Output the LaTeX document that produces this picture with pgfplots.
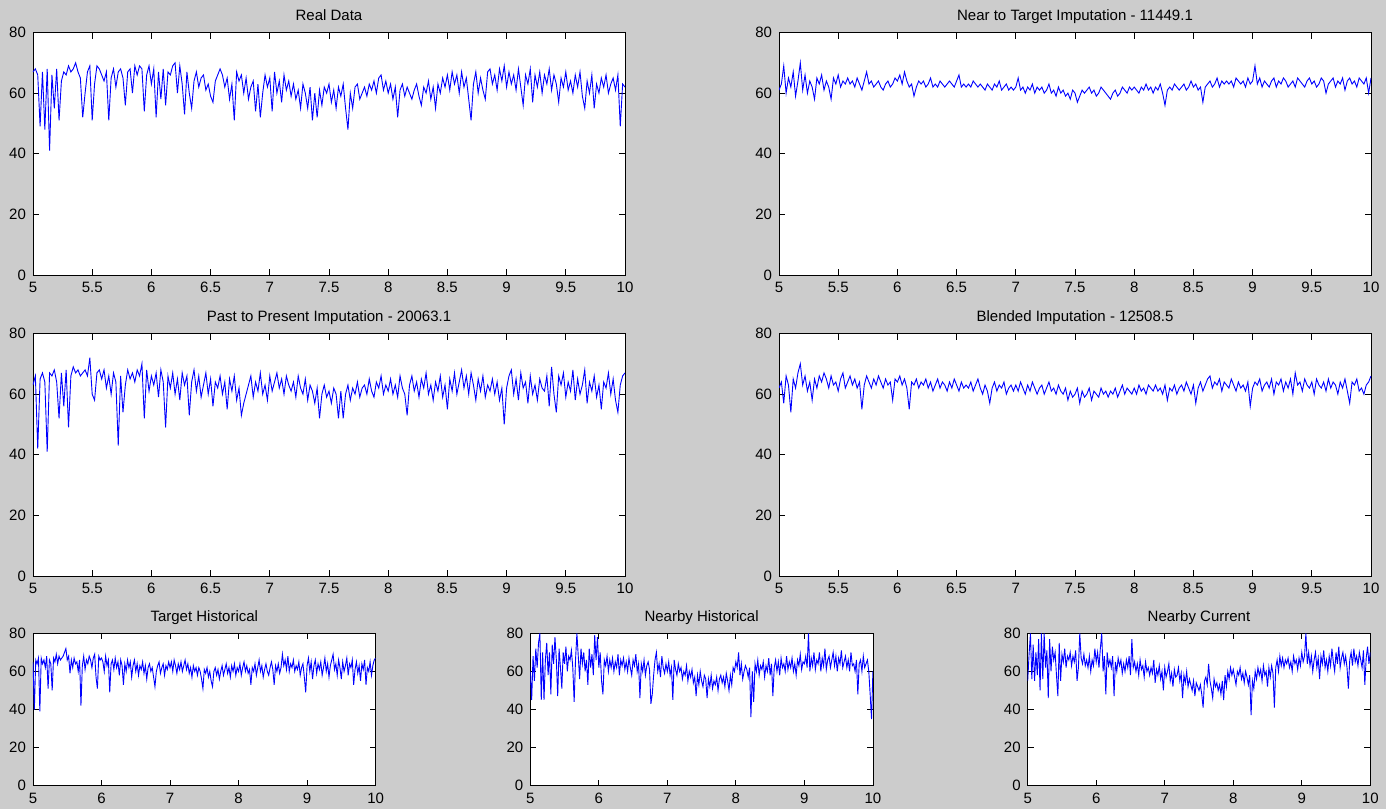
\documentclass[border=0pt]{standalone}
\usepackage{fontspec}
\setmainfont{Liberation Sans}
\usepackage{pgfplots}
\pgfplotsset{compat=1.18}
\definecolor{bgc}{RGB}{204,204,204}
\pgfplotsset{
  mpanel/.style={
    scale only axis, xmin=5, xmax=10, ymin=0, ymax=80,
    ytick={0,20,40,60,80},
    tick align=inside, xtick pos=both, ytick pos=both,
    xticklabel pos=bottom, yticklabel pos=left,
    major tick length=3pt,
    axis background/.style={fill=white},
    axis line style={line width=0.4pt, black},
    every tick/.style={black, line width=0.4pt},
    ticklabel style={font=\fontsize{7.5}{8}\selectfont, text=black},
    /pgf/number format/assume math mode=true,
    every axis title shift=0pt,
    title style={font=\fontsize{7.5}{8}\selectfont, at={(0.5,1)}, anchor=base, yshift=5.8pt, inner sep=0pt},
    anchor=south west,
  },
  bigpanel/.style={mpanel, width=296pt, height=121.25pt, xtick={5,5.5,6,6.5,7,7.5,8,8.5,9,9.5,10}},
  smallpanel/.style={mpanel, width=171.3pt, height=76.2pt, xtick={5,6,7,8,9,10}},
  ser/.style={blue, no markers, line width=0.45pt},
}
\begin{document}
\begin{tikzpicture}
\fill[bgc] (0,0) rectangle (693pt,404.5pt);
% Real Data
\begin{axis}[bigpanel, at={(16.5pt,267pt)}, title={Real Data}]
\addplot[ser] table[x expr=5+0.02*\coordindex, y index=0, header=false, row sep=\\] {
67\\68\\66\\49\\67\\48\\68\\41\\66\\55\\
68\\51\\64\\67\\66\\69\\67\\68\\70\\67\\
65\\52\\60\\67\\69\\51\\63\\69\\68\\66\\
64\\67\\51\\65\\68\\62\\67\\68\\65\\56\\
67\\68\\60\\69\\66\\69\\68\\54\\66\\69\\
63\\68\\52\\67\\58\\68\\56\\67\\66\\69\\
70\\60\\69\\63\\53\\67\\60\\55\\64\\67\\
62\\65\\66\\61\\63\\59\\57\\64\\66\\68\\
66\\62\\65\\58\\63\\51\\67\\64\\66\\60\\
65\\58\\62\\64\\54\\63\\52\\60\\66\\62\\
65\\54\\67\\60\\64\\57\\66\\61\\64\\59\\
63\\58\\61\\55\\63\\60\\55\\62\\51\\60\\
52\\61\\56\\62\\60\\63\\57\\61\\55\\62\\
59\\63\\55\\48\\60\\55\\62\\63\\58\\60\\
62\\59\\63\\61\\64\\60\\65\\66\\61\\64\\
60\\63\\58\\62\\52\\61\\63\\59\\62\\60\\
58\\61\\63\\59\\56\\62\\60\\64\\58\\62\\
55\\63\\60\\65\\62\\66\\61\\67\\63\\66\\
60\\67\\62\\65\\58\\51\\63\\67\\60\\65\\
61\\58\\67\\68\\63\\66\\61\\68\\64\\69\\
62\\67\\63\\66\\61\\68\\62\\56\\66\\63\\
68\\57\\66\\62\\67\\60\\66\\63\\68\\61\\
66\\63\\57\\65\\62\\67\\61\\64\\60\\66\\
62\\67\\59\\55\\64\\60\\66\\55\\63\\60\\
65\\62\\66\\60\\63\\65\\61\\66\\49\\63\\
62\\
};
\end{axis}
% Near to Target
\begin{axis}[bigpanel, at={(389.5pt,267pt)}, title={Near to Target Imputation - 11449.1}]
\addplot[ser] table[x expr=5+0.02*\coordindex, y index=0, header=false, row sep=\\] {
61\\63\\69\\60\\65\\62\\67\\59\\64\\70\\
61\\66\\60\\64\\62\\58\\65\\63\\66\\61\\
64\\62\\58\\65\\63\\66\\62\\64\\63\\65\\
63\\64\\62\\65\\63\\61\\64\\67\\63\\64\\
62\\63\\64\\62\\61\\63\\64\\62\\63\\65\\
64\\66\\63\\67\\64\\62\\63\\59\\62\\64\\
63\\64\\62\\63\\65\\62\\63\\62\\64\\63\\
62\\63\\64\\63\\62\\64\\66\\62\\63\\62\\
63\\62\\64\\63\\62\\63\\62\\61\\63\\62\\
61\\63\\62\\64\\61\\62\\63\\61\\62\\61\\
62\\65\\61\\62\\60\\62\\61\\63\\60\\62\\
61\\62\\60\\61\\63\\60\\61\\59\\62\\60\\
61\\59\\60\\58\\61\\60\\57\\59\\61\\60\\
61\\62\\60\\61\\59\\60\\62\\61\\60\\59\\
58\\60\\61\\59\\60\\62\\61\\60\\62\\61\\
62\\61\\60\\62\\61\\63\\61\\62\\60\\62\\
61\\63\\60\\56\\61\\62\\61\\63\\62\\61\\
62\\63\\61\\62\\64\\62\\63\\61\\62\\57\\
62\\63\\64\\62\\63\\65\\62\\64\\63\\64\\
63\\64\\62\\65\\64\\63\\64\\62\\65\\63\\
64\\69\\63\\65\\62\\64\\63\\62\\64\\65\\
62\\64\\63\\65\\64\\62\\63\\64\\62\\65\\
64\\63\\62\\64\\65\\63\\64\\62\\63\\65\\
64\\60\\63\\64\\65\\62\\64\\63\\65\\61\\
64\\65\\63\\64\\62\\65\\64\\63\\65\\60\\
65\\
};
\end{axis}
% Past to Present
\begin{axis}[bigpanel, at={(16.5pt,116.5pt)}, title={Past to Present Imputation - 20063.1}]
\addplot[ser] table[x expr=5+0.02*\coordindex, y index=0, header=false, row sep=\\] {
63\\66\\42\\65\\67\\64\\41\\67\\66\\68\\
64\\52\\67\\56\\68\\49\\66\\69\\67\\68\\
66\\67\\68\\66\\72\\60\\58\\67\\68\\65\\
68\\62\\66\\60\\67\\64\\43\\66\\54\\63\\
68\\65\\67\\64\\68\\66\\70\\52\\68\\61\\
66\\63\\67\\59\\68\\64\\49\\66\\62\\67\\
60\\65\\58\\67\\63\\66\\53\\64\\68\\61\\
66\\59\\63\\67\\60\\65\\56\\64\\62\\66\\
60\\64\\55\\65\\61\\66\\58\\62\\53\\57\\
60\\63\\66\\59\\64\\61\\67\\60\\63\\58\\
66\\61\\64\\67\\62\\65\\60\\66\\63\\61\\
64\\59\\66\\62\\60\\65\\58\\63\\61\\57\\
62\\52\\60\\63\\59\\61\\57\\62\\60\\52\\
61\\52\\60\\63\\58\\62\\60\\64\\59\\62\\
63\\60\\65\\61\\59\\64\\62\\66\\60\\63\\
61\\65\\60\\63\\59\\66\\62\\60\\53\\63\\
66\\61\\64\\59\\65\\62\\67\\60\\63\\58\\
64\\61\\66\\59\\63\\55\\65\\61\\67\\60\\
64\\68\\62\\66\\60\\67\\63\\58\\65\\61\\
66\\59\\63\\61\\65\\60\\64\\58\\62\\50\\
62\\66\\68\\60\\65\\58\\67\\62\\64\\57\\
66\\60\\63\\58\\65\\62\\61\\66\\56\\69\\
60\\54\\66\\63\\67\\59\\64\\61\\68\\58\\
65\\60\\63\\68\\57\\64\\61\\66\\59\\63\\
55\\64\\62\\67\\60\\65\\58\\54\\63\\66\\
67\\
};
\end{axis}
% Blended
\begin{axis}[bigpanel, at={(389.5pt,116.5pt)}, title={Blended Imputation - 12508.5}]
\addplot[ser] table[x expr=5+0.02*\coordindex, y index=0, header=false, row sep=\\] {
62\\64\\57\\66\\63\\54\\65\\62\\67\\70\\
63\\66\\61\\64\\58\\65\\62\\66\\64\\67\\
65\\62\\66\\63\\64\\61\\65\\67\\62\\64\\
66\\63\\65\\62\\64\\55\\63\\66\\64\\62\\
65\\63\\66\\64\\62\\65\\63\\64\\58\\65\\
64\\66\\63\\65\\62\\55\\64\\63\\65\\62\\
64\\63\\65\\62\\64\\61\\63\\65\\62\\64\\
63\\61\\64\\62\\65\\63\\61\\64\\62\\63\\
62\\64\\61\\63\\65\\62\\60\\63\\61\\57\\
62\\64\\61\\63\\62\\64\\60\\62\\63\\61\\
63\\61\\64\\62\\60\\63\\61\\64\\62\\60\\
62\\63\\60\\62\\64\\61\\62\\60\\63\\61\\
60\\62\\58\\61\\59\\60\\62\\57\\61\\59\\
60\\62\\58\\61\\60\\59\\62\\60\\61\\59\\
61\\60\\62\\59\\61\\63\\60\\62\\61\\60\\
62\\60\\63\\61\\62\\60\\63\\62\\61\\63\\
61\\62\\60\\63\\58\\62\\61\\63\\60\\62\\
63\\61\\64\\62\\60\\63\\57\\62\\64\\61\\
63\\65\\66\\62\\64\\63\\65\\61\\64\\63\\
62\\65\\63\\61\\64\\62\\63\\61\\64\\56\\
62\\64\\63\\65\\61\\63\\64\\62\\65\\60\\
64\\63\\65\\61\\64\\62\\65\\60\\67\\63\\
64\\61\\65\\63\\62\\64\\60\\65\\63\\62\\
64\\61\\65\\62\\64\\63\\60\\64\\62\\65\\
61\\57\\64\\63\\65\\61\\62\\60\\63\\64\\
66\\
};
\end{axis}
% Target Historical
\begin{axis}[smallpanel, at={(16.5pt,11.65pt)}, title={Target Historical}]
\addplot[ser] table[x expr=5+0.02*\coordindex, y index=0, header=false, row sep=\\] {
65\\40\\66\\64\\67\\39\\67\\64\\66\\62\\
68\\51\\66\\64\\50\\67\\65\\69\\64\\68\\
66\\67\\68\\70\\72\\66\\68\\59\\66\\62\\
67\\64\\65\\60\\66\\42\\63\\68\\61\\66\\
64\\68\\66\\62\\67\\69\\57\\51\\68\\66\\
67\\65\\60\\68\\63\\66\\49\\64\\66\\61\\
67\\62\\65\\58\\66\\63\\53\\64\\60\\66\\
62\\65\\57\\63\\66\\60\\64\\58\\63\\61\\
65\\59\\63\\56\\62\\64\\60\\62\\57\\52\\
60\\63\\65\\59\\62\\64\\58\\63\\61\\65\\
62\\65\\60\\66\\63\\59\\64\\61\\65\\60\\
63\\66\\61\\64\\59\\62\\57\\63\\60\\62\\
58\\62\\60\\56\\51\\61\\59\\62\\57\\60\\
55\\52\\60\\62\\58\\61\\56\\60\\63\\58\\
61\\64\\59\\62\\57\\63\\60\\64\\58\\62\\
60\\64\\58\\62\\65\\60\\63\\59\\61\\53\\
62\\60\\64\\58\\62\\66\\60\\63\\57\\61\\
64\\60\\58\\62\\65\\61\\53\\63\\60\\64\\
59\\62\\69\\63\\66\\61\\68\\60\\64\\62\\
66\\60\\63\\61\\65\\58\\62\\64\\57\\49\\
63\\67\\60\\65\\56\\63\\66\\59\\64\\61\\
65\\58\\62\\67\\60\\64\\57\\63\\66\\69\\
61\\64\\58\\66\\62\\56\\65\\60\\63\\67\\
58\\64\\62\\66\\53\\61\\65\\59\\63\\55\\
64\\61\\66\\53\\62\\60\\65\\58\\63\\66\\
67\\
};
\end{axis}
% Nearby Historical
\begin{axis}[smallpanel, at={(265.15pt,11.65pt)}, title={Nearby Historical}]
\addplot[ser] table[x expr=5+0.02*\coordindex, y index=0, header=false, row sep=\\] {
60\\45\\68\\55\\72\\62\\75\\80\\45\\70\\
45\\66\\75\\58\\70\\48\\74\\64\\78\\66\\
47\\72\\62\\51\\70\\64\\73\\60\\68\\66\\
71\\62\\44\\66\\80\\68\\56\\72\\64\\70\\
60\\66\\53\\72\\62\\69\\58\\79\\66\\78\\
62\\70\\55\\48\\66\\63\\68\\60\\66\\62\\
67\\60\\65\\62\\69\\58\\66\\63\\67\\61\\
65\\60\\67\\62\\58\\66\\63\\69\\60\\64\\
46\\64\\60\\66\\58\\63\\65\\61\\43\\48\\
58\\66\\70\\60\\64\\57\\68\\62\\59\\64\\
60\\65\\58\\62\\45\\66\\61\\58\\64\\60\\
62\\56\\60\\58\\63\\55\\60\\57\\61\\54\\
57\\47\\58\\53\\60\\55\\52\\58\\56\\46\\
56\\52\\58\\51\\55\\53\\57\\50\\56\\58\\
54\\57\\52\\59\\55\\50\\58\\53\\62\\60\\
65\\62\\70\\58\\64\\56\\60\\63\\61\\57\\
62\\36\\60\\44\\64\\60\\66\\58\\63\\61\\
65\\57\\63\\60\\67\\58\\64\\47\\62\\66\\
60\\65\\58\\67\\62\\64\\60\\68\\61\\65\\
62\\67\\60\\64\\58\\66\\63\\69\\61\\65\\
64\\68\\62\\80\\60\\67\\63\\70\\61\\66\\
64\\70\\60\\67\\63\\72\\61\\66\\68\\62\\
66\\70\\63\\68\\60\\67\\64\\71\\62\\65\\
68\\62\\66\\60\\70\\63\\64\\60\\66\\48\\
64\\66\\60\\68\\62\\64\\66\\60\\48\\35\\
60\\
};
\end{axis}
% Nearby Current
\begin{axis}[smallpanel, at={(513.85pt,11.65pt)}, title={Nearby Current}]
\addplot[ser] table[x expr=5+0.02*\coordindex, y index=0, header=false, row sep=\\] {
55\\69\\80\\56\\74\\55\\70\\58\\77\\50\\
80\\56\\80\\62\\71\\46\\77\\60\\73\\66\\
70\\58\\47\\75\\55\\69\\65\\72\\62\\68\\
66\\70\\63\\68\\65\\71\\55\\62\\80\\67\\
64\\69\\63\\66\\62\\68\\60\\66\\63\\72\\
65\\70\\62\\72\\80\\60\\68\\48\\70\\63\\
66\\62\\68\\47\\65\\60\\67\\63\\66\\59\\
64\\60\\66\\62\\68\\58\\77\\62\\65\\60\\
64\\58\\66\\61\\63\\57\\65\\60\\62\\58\\
62\\59\\66\\54\\61\\58\\63\\56\\60\\50\\
62\\57\\60\\64\\55\\59\\52\\61\\57\\58\\
62\\55\\59\\46\\58\\54\\60\\52\\56\\53\\
50\\55\\47\\54\\52\\50\\53\\48\\41\\55\\
57\\53\\64\\55\\51\\46\\56\\52\\54\\50\\
53\\48\\55\\45\\58\\52\\60\\56\\62\\58\\
61\\57\\53\\60\\58\\62\\56\\59\\54\\60\\
57\\53\\58\\37\\55\\51\\60\\56\\62\\58\\
61\\55\\63\\58\\60\\52\\62\\57\\63\\59\\
41\\62\\66\\60\\68\\63\\67\\62\\66\\64\\
67\\62\\65\\60\\68\\64\\66\\61\\67\\63\\
70\\65\\68\\80\\64\\70\\63\\68\\60\\66\\
70\\62\\67\\56\\68\\64\\71\\62\\66\\60\\
68\\63\\72\\65\\60\\70\\64\\73\\62\\67\\
70\\64\\68\\62\\51\\66\\70\\63\\72\\65\\
68\\63\\70\\66\\62\\71\\53\\67\\73\\64\\
70\\
};
\end{axis}
\pgfresetboundingbox
\useasboundingbox (0,0) rectangle (693pt,404.5pt);
\end{tikzpicture}
\end{document}
